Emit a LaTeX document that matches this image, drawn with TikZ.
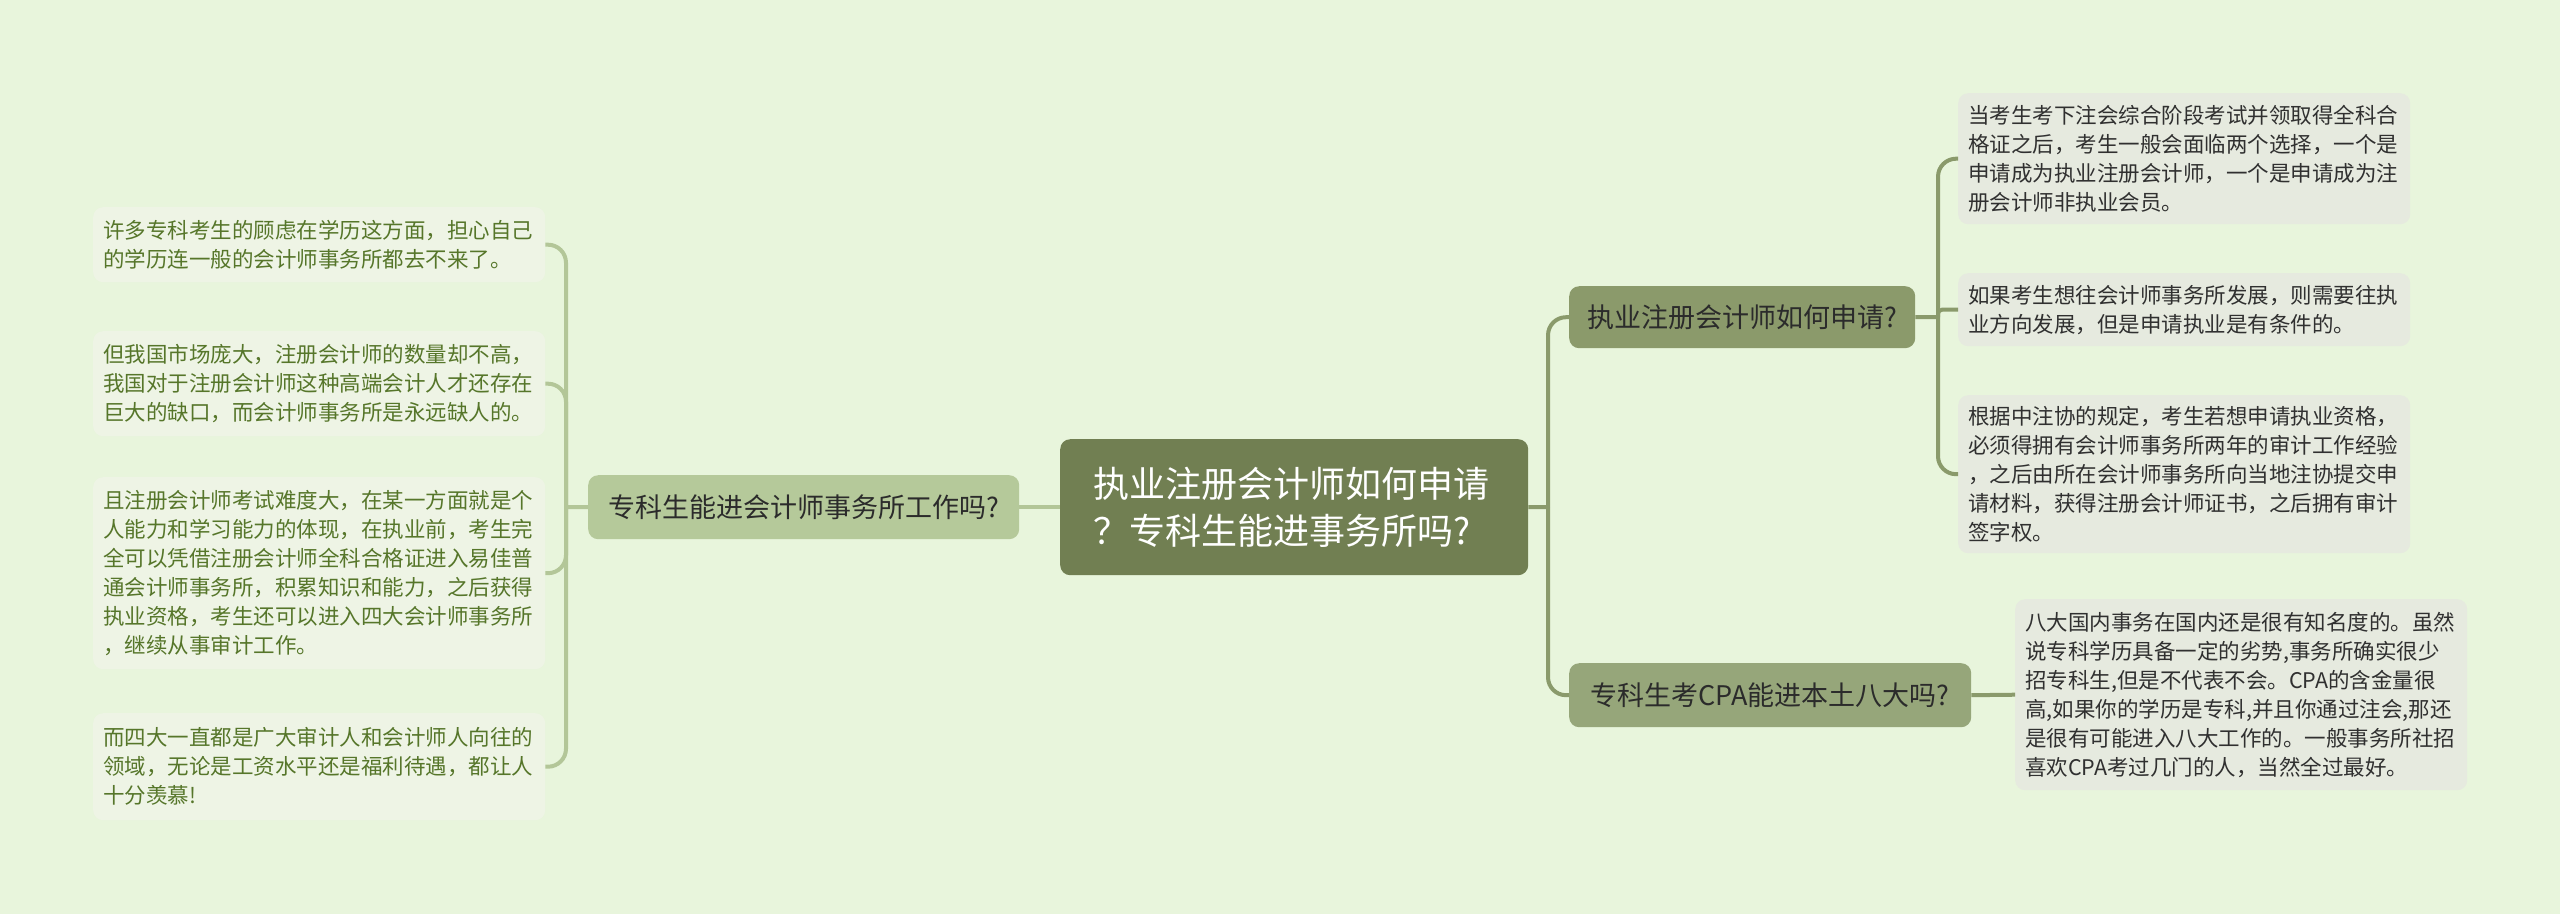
\documentclass[tikz,border=0pt]{standalone}
\usepackage{fontspec}
\setmainfont{Noto Sans CJK SC}
\definecolor{bgc}{HTML}{E8F5DC}
\definecolor{centralc}{HTML}{717F52}
\definecolor{rmonec}{HTML}{8B9A6B}
\definecolor{rmtwoc}{HTML}{96A67A}
\definecolor{lmainc}{HTML}{B5C99A}
\definecolor{lleafc}{HTML}{EEF4E5}
\definecolor{lleaftext}{HTML}{56762A}
\definecolor{rleafc}{HTML}{E6EADF}
\definecolor{rleaftext}{HTML}{303030}
\definecolor{lconnc}{HTML}{B3C698}
\definecolor{rconnc}{HTML}{8A9A6B}
\definecolor{darktext}{HTML}{2B2B2B}
\tikzset{
  boxbase/.style={rounded corners=10pt, anchor=north west, inner ysep=0pt},
  centralbox/.style={boxbase, fill=centralc, text=white, align=left, inner xsep=33pt,
    font=\fontsize{36pt}{47pt}\selectfont},
  mainbox/.style={boxbase, inner xsep=0pt, text=darktext, align=center,
    font=\fontsize{27pt}{32pt}\selectfont},
  lleaf/.style={boxbase, fill=lleafc, text=lleaftext, align=left, inner xsep=10pt,
    text width=432pt, font=\fontsize{21.5pt}{29pt}\selectfont},
  rleaf/.style={boxbase, fill=rleafc, text=rleaftext, align=left, inner xsep=10pt,
    text width=432pt, font=\fontsize{21.5pt}{29pt}\selectfont},
  lconn/.style={draw=lconnc, line width=4pt},
  rconn/.style={draw=rconnc, line width=4pt},
}
\begin{document}
\begin{tikzpicture}[x=1pt,y=-1pt]
\useasboundingbox (0,0) rectangle (2560,914);
\fill[bgc] (0,0) rectangle (2560,914);

% central
\node[centralbox, minimum width=468pt, minimum height=136pt, text width=402pt] (C) at (1060,439)
  {执业注册会计师如何申请\\？专科生能进事务所吗?};

% main branches
\node[mainbox, fill=lmainc, minimum width=431pt, minimum height=64pt] (LM) at (588,475)
  {专科生能进会计师事务所工作吗?};
\node[mainbox, fill=rmonec, minimum width=346pt, minimum height=62pt] (RMa) at (1569,286)
  {执业注册会计师如何申请?};
\node[mainbox, fill=rmtwoc, minimum width=402pt, minimum height=64pt] (RMb) at (1569,663)
  {专科生考CPA能进本土八大吗?};

% left leaves
\node[lleaf, minimum height=75pt] (La) at (93,207)
  {许多专科考生的顾虑在学历这方面，担心自己\\的学历连一般的会计师事务所都去不来了。};
\node[lleaf, minimum height=105pt] (Lb) at (93,331)
  {但我国市场庞大，注册会计师的数量却不高，\\我国对于注册会计师这种高端会计人才还存在\\巨大的缺口，而会计师事务所是永远缺人的。};
\node[lleaf, minimum height=192pt] (Lc) at (93,477)
  {且注册会计师考试难度大，在某一方面就是个\\人能力和学习能力的体现，在执业前，考生完\\全可以凭借注册会计师全科合格证进入易佳普\\通会计师事务所，积累知识和能力，之后获得\\执业资格，考生还可以进入四大会计师事务所\\，继续从事审计工作。};
\node[lleaf, minimum height=107pt] (Ld) at (93,713)
  {而四大一直都是广大审计人和会计师人向往的\\领域，无论是工资水平还是福利待遇，都让人\\十分羡慕!};

% right leaves
\node[rleaf, minimum height=131pt] (Ra) at (1958,93)
  {当考生考下注会综合阶段考试并领取得全科合\\格证之后，考生一般会面临两个选择，一个是\\申请成为执业注册会计师，一个是申请成为注\\册会计师非执业会员。};
\node[rleaf, minimum height=73pt] (Rb) at (1958,273)
  {如果考生想往会计师事务所发展，则需要往执\\业方向发展，但是申请执业是有条件的。};
\node[rleaf, minimum height=158pt] (Rc) at (1958,395)
  {根据中注协的规定，考生若想申请执业资格，\\必须得拥有会计师事务所两年的审计工作经验\\，之后由所在会计师事务所向当地注协提交申\\请材料，获得注册会计师证书，之后拥有审计\\签字权。};
\node[rleaf, minimum height=191pt] (Rd) at (2015,599)
  {八大国内事务在国内还是很有知名度的。虽然\\说专科学历具备一定的劣势,事务所确实很少\\招专科生,但是不代表不会。CPA的含金量很\\高,如果你的学历是专科,并且你通过注会,那还\\是很有可能进入八大工作的。一般事务所社招\\喜欢CPA考过几门的人，当然全过最好。};

% connectors left
\coordinate (lj) at (566,507);
\draw[lconn] (LM.east) -- (C.west);
\draw[lconn] (LM.west) -- (lj);
\foreach \n in {La,Lb,Lc,Ld}
  \draw[lconn, rounded corners=18pt] (lj) |- (\n.east);

% connectors right
\coordinate (rj) at (1548,507);
\draw[rconn] (C.east) -- (rj);
\draw[rconn, rounded corners=18pt] (rj) |- (RMa.west);
\draw[rconn, rounded corners=18pt] (rj) |- (RMb.west);

\coordinate (rk) at (1938,317);
\draw[rconn] (RMa.east) -- (rk);
\draw[rconn, rounded corners=18pt] (rk) |- (Ra.west);
\draw[rconn, rounded corners=4pt] (rk) |- (Rb.west);
\draw[rconn, rounded corners=18pt] (rk) |- (Rc.west);

\draw[rconn] (RMb.east) -- (Rd.west);
\end{tikzpicture}
\end{document}
